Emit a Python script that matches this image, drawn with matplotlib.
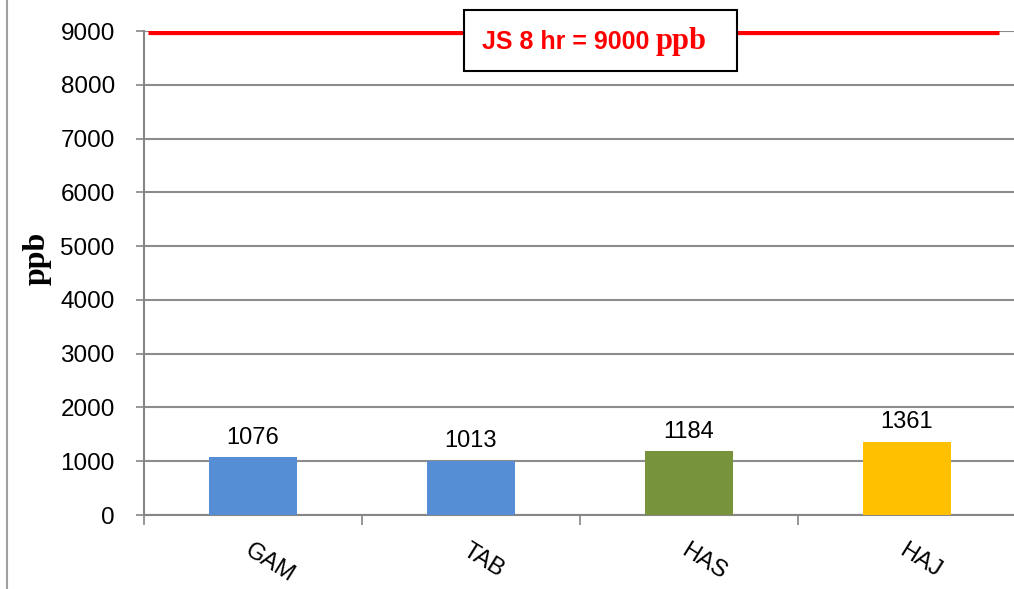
import matplotlib
matplotlib.use('Agg')
import matplotlib.pyplot as plt
from matplotlib.patches import Rectangle
from matplotlib.lines import Line2D

# site averages (8 hr), ppb
sites = ['GAM', 'TAB', 'HAS', 'HAJ']
values = [1076, 1013, 1184, 1361]
colors = ['#558ED5', '#558ED5', '#77933C', '#FFC000']
limit = 9000
yticks = list(range(0, 9001, 1000))

plt.rcParams['font.family'] = ['Liberation Sans', 'DejaVu Sans']

fig = plt.figure(figsize=(10.14, 5.89), dpi=100)
ax = fig.add_axes([144 / 1014, 1 - 515 / 589, 872 / 1014, 484 / 589])

x = list(range(len(sites)))
bars = ax.bar(x, values, width=0.4, color=colors, zorder=3)
for b, v in zip(bars, values):
    ax.annotate(str(v), (b.get_x() + b.get_width() / 2, v), xytext=(0, 6),
                textcoords='offset points', ha='center', va='bottom', fontsize=17)

# limit line
ax.plot([-0.48, 3.42], [limit, limit], color='#FF0000', lw=5.2, zorder=4,
        solid_capstyle='butt')

ax.set_xlim(-0.5, 3.5)
ax.set_ylim(0, 9000)
ax.set_yticks(yticks)
ax.tick_params(axis='y', labelsize=17.5, length=6, width=1.2, color='#868686', pad=15)
ax.yaxis.grid(True, color='#8c8c8c', lw=1.5, zorder=0)

ax.set_xticks([-0.5, 0.5, 1.5, 2.5, 3.5])
ax.set_xticklabels([])
ax.set_xticks(x, minor=True)
ax.set_xticklabels(sites, minor=True, rotation=-32, ha='left', va='top',
                   rotation_mode='anchor', fontsize=17)
ax.tick_params(axis='x', which='major', length=7, width=1.2, color='#868686')
ax.tick_params(axis='x', which='minor', length=0, pad=18)

for s in ['top', 'right']:
    ax.spines[s].set_visible(False)
for s in ['left', 'bottom']:
    ax.spines[s].set_color('#868686')
    ax.spines[s].set_linewidth(1.5)

ax.set_ylabel('ppb', family=['Liberation Serif'], fontweight='bold', fontsize=23)
ax.yaxis.set_label_coords(-92 / 872, 0.53)

# label box for the limit
fig.patches.append(Rectangle((464 / 1014, 1 - 71 / 589), 273 / 1014, 61 / 589,
                             transform=fig.transFigure, facecolor='white',
                             edgecolor='black', lw=1.5, zorder=5))
fig.text(649 / 1014, 1 - 49 / 589, 'JS 8 hr = 9000', color='#FF0000',
         fontweight='bold', fontsize=18, ha='right', va='baseline', zorder=6)
fig.text(656 / 1014, 1 - 49 / 589, 'ppb', color='#FF0000', family=['Liberation Serif'],
         fontweight='bold', fontsize=22, ha='left', va='baseline', zorder=6)

# outer frame line on the left
fig.add_artist(Line2D([7 / 1014, 7 / 1014], [0, 1], color='#a0a0a0', lw=1.5,
                      transform=fig.transFigure))

fig.savefig('out.png', dpi=100)
